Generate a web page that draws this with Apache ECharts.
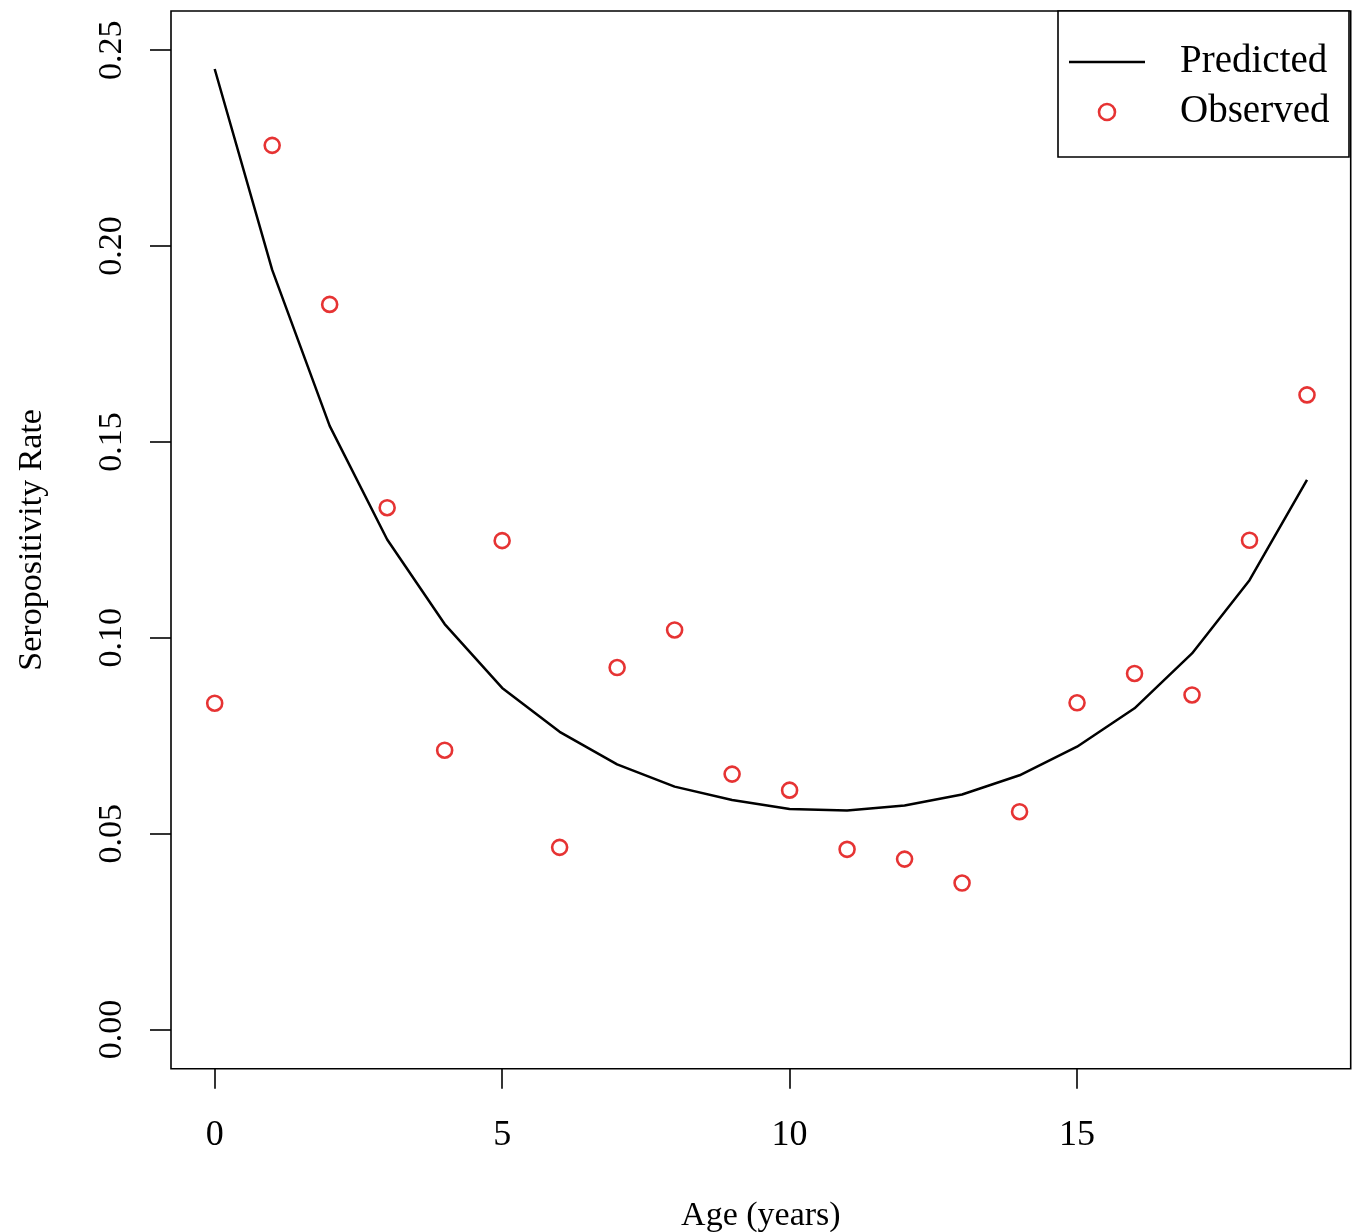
<!DOCTYPE html>
<html>
<head>
<meta charset="utf-8">
<script src="https://cdn.jsdelivr.net/npm/echarts@6/dist/echarts.min.js"></script>
<style>
html,body{margin:0;padding:0;background:#fff;}
#chart{width:1356px;height:1232px;}
</style>
</head>
<body>
<div id="chart"></div>
<script>
const ages = [0,1,2,3,4,5,6,7,8,9,10,11,12,13,14,15,16,17,18,19];
const predicted = [0.2452,0.1939,0.1541,0.1251,0.1035,0.0872,0.0760,0.0677,0.0620,0.0586,0.0563,0.0559,0.0572,0.0600,0.0649,0.0722,0.0820,0.0960,0.1147,0.1403];
const observed = [0.0833,0.2257,0.1851,0.1332,0.0713,0.1248,0.0465,0.0924,0.1020,0.0652,0.0611,0.0460,0.0435,0.0374,0.0556,0.0834,0.0909,0.0854,0.1249,0.1620];
const xTicks = [0,5,10,15];
const yTicks = [0,0.05,0.10,0.15,0.20,0.25];

const RED = '#e00000';
const FONT = 'Liberation Serif';

const chart = echarts.init(document.getElementById('chart'), null, {renderer:'canvas'});
chart.setOption({
  animation:false,
  backgroundColor:'#ffffff',
  grid:{left:171, top:11, right:5.3, bottom:163.3, show:true, borderColor:'#000', borderWidth:1.6, backgroundColor:'transparent', containLabel:false, outerBoundsMode:'none'},
  xAxis:{
    type:'value', min:-0.76, max:19.76,
    splitLine:{show:false},
    axisLine:{show:false, onZero:false},
    axisTick:{show:true, customValues:xTicks, length:20, inside:false, lineStyle:{color:'#000', width:1.6}},
    axisLabel:{customValues:xTicks, margin:49, fontFamily:FONT, fontSize:36, color:'#000'},
    name:'Age (years)', nameLocation:'middle', nameGap:130,
    nameTextStyle:{fontFamily:FONT, fontSize:34, color:'#000'}
  },
  yAxis:{
    type:'value', min:-0.01, max:0.26,
    splitLine:{show:false},
    axisLine:{show:false, onZero:false},
    axisTick:{show:true, customValues:yTicks, length:21, inside:false, lineStyle:{color:'#000', width:1.6}},
    axisLabel:{customValues:yTicks, rotate:90, margin:42, fontFamily:FONT, fontSize:34, color:'#000', formatter:v=>v.toFixed(2)},
    name:'Seropositivity Rate', nameLocation:'middle', nameGap:122, nameRotate:90,
    nameTextStyle:{fontFamily:FONT, fontSize:34, color:'#000'}
  },
  legend:{
    orient:'vertical', left:1058, top:11,
    padding:[31,19,25,11],
    itemWidth:76, itemHeight:16, itemGap:10,
    borderColor:'#000', borderWidth:1.6, backgroundColor:'#fff',
    textStyle:{fontFamily:FONT, fontSize:39, color:'#000', lineHeight:40, width:150, padding:[0,0,0,30]},
    data:[
      {name:'Predicted', icon:'path://M0,0L76,0L76,2.4L0,2.4Z', itemStyle:{color:'#000', borderWidth:0}},
      {name:'Observed', icon:'circle', itemStyle:{color:'rgba(0,0,0,0)', borderColor:RED, borderWidth:2.6}}
    ]
  },
  series:[
    {
      name:'Predicted', type:'line', symbol:'none', z:2,
      lineStyle:{color:'#000', width:2.5},
      itemStyle:{color:'#000'},
      data:ages.map((a,i)=>[a,predicted[i]])
    },
    {
      name:'Observed', type:'scatter', symbol:'circle', symbolSize:15, z:3,
      itemStyle:{color:'rgba(0,0,0,0)', borderColor:RED, borderWidth:2.6},
      data:ages.map((a,i)=>[a,observed[i]])
    }
  ]
});
</script>
</body>
</html>
